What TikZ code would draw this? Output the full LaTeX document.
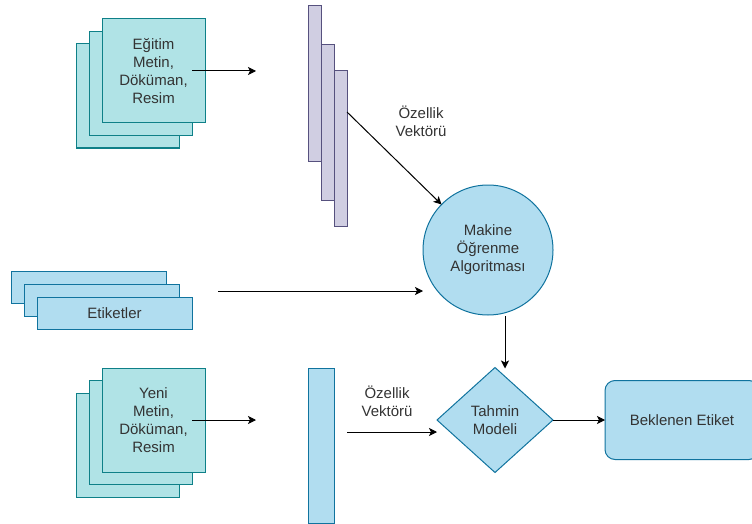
\documentclass[tikz,border=0pt]{standalone}
\usepackage{fontspec}
\setmainfont{Liberation Sans}
\usetikzlibrary{shapes.geometric,arrows.meta}
\definecolor{tealfill}{HTML}{B0E3E6}
\definecolor{tealline}{HTML}{0E8088}
\definecolor{purfill}{HTML}{D0CEE2}
\definecolor{purline}{HTML}{56517E}
\definecolor{bluefill}{HTML}{B1DDF0}
\definecolor{blueline}{HTML}{10739E}
\definecolor{txt}{HTML}{333333}
\begin{document}
\begin{tikzpicture}[x=1pt,y=-1pt,
  base/.style={inner sep=0pt,outer sep=0pt,line width=1pt,text=txt,
    font=\fontsize{15}{18}\selectfont,align=center},
  doc/.style={base,draw=tealline,fill=tealfill,minimum width=103pt,minimum height=104pt},
  lbl/.style={base,draw=blueline,fill=bluefill,minimum width=155pt,minimum height=32pt},
  vec/.style={base,draw=purline,fill=purfill,minimum width=13pt,minimum height=155pt},
  arr/.style={line width=1pt,-{Stealth[length=8pt,width=8pt,inset=2pt]}},
  txtlabel/.style={base,text=txt}
]
\useasboundingbox (0,0) rectangle (752,524);

% training documents
\node[doc] (d1a) at (127.5,96) {};
\node[doc] (d1b) at (140.5,84) {};
\node[doc] (d1c) at (153.5,71) {Eğitim\\Metin,\\Döküman,\\Resim};
\coordinate (t1) at (256,71);

% feature vectors
\node[vec,minimum height=156pt] (v1) at (314.5,83.5) {};
\node[vec] (v2) at (327.5,122.5) {};
\node[vec] (v3) at (340.5,148.5) {};
\node[txtlabel] (f1) at (421,121) {Özellik\\Vektörü};

% learning algorithm
\node[base,circle,draw=blueline,fill=bluefill,minimum size=130pt] (ml) at (488,250) {Makine\\Öğrenme\\Algoritması};

% labels
\node[lbl] (e1) at (88.5,287.5) {};
\node[lbl] (e2) at (101.5,300.5) {};
\node[lbl] (e3) at (114.5,313.5) {Etiketler};
\coordinate (es) at (218,291);

% new documents
\node[doc] (d2a) at (127.5,445) {};
\node[doc] (d2b) at (140.5,432.5) {};
\node[doc] (d2c) at (153.5,420) {Yeni\\Metin,\\Döküman,\\Resim};
\coordinate (t2) at (256,420);

% new feature vector
\node[base,draw=blueline,fill=bluefill,minimum width=26pt,minimum height=155pt] (v4) at (321,445.5) {};
\node[txtlabel] (f2) at (387,401) {Özellik\\Vektörü};
\coordinate (vs) at (347,432);

% prediction model and result
\node[base,diamond,aspect=1.1,draw=blueline,fill=bluefill,minimum width=116pt,minimum height=105pt] (pm) at (495,420) {Tahmin\\Modeli};
\node[base,draw=blueline,fill=bluefill,rounded corners=10pt,minimum width=154pt,minimum height=79pt] (res) at (682,420) {Beklenen Etiket};
\coordinate (mo) at (505,316);

% connectors
\draw[arr] (d1b.east |- d1c.center) -- (t1);
\draw[arr] ([yshift=36.5pt]v3.east) -- (ml);
\draw[arr] (es) -- (es -| ml.west);
\draw[arr] (mo) -- ([yshift=-1pt]mo |- pm.north);
\draw[arr] (d2b.east |- d2c.center) -- (t2);
\draw[arr] (vs) -- (vs -| pm.west);
\draw[arr] (pm.east) -- (res.west);
\end{tikzpicture}
\end{document}
